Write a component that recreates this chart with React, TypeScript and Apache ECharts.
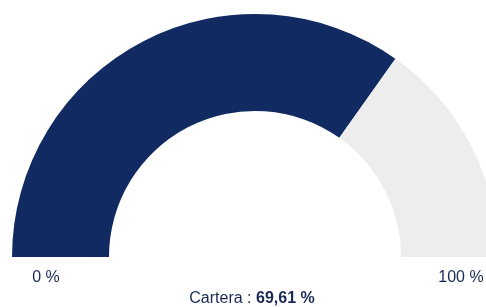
import React, { useEffect, useRef } from "react";
import * as echarts from "echarts";

const categories = ["Cartera", "Resto"];
const values = [69.61, 30.39];
const tickLabels = ["0 %", "100 %"];
const titleLabel = "Cartera";
const titleValue = "69,61 %";

const NAVY = "#112B62";
const GREY = "#EDEDED";
const TEXT = "#1B2A55";

export default function App() {
  const ref = useRef<HTMLDivElement>(null);
  useEffect(() => {
    if (!ref.current) return;
    const chart = echarts.init(ref.current, undefined, { renderer: "svg" });
    const total = values.reduce((a, b) => a + b, 0);
    chart.setOption({
      animation: false,
      series: [
        {
          type: "pie",
          center: [255, 257],
          radius: [146, 243],
          startAngle: 180,
          clockwise: true,
          silent: true,
          label: { show: false },
          labelLine: { show: false },
          emphasis: { disabled: true },
          data: [
            { name: categories[0], value: values[0], itemStyle: { color: NAVY } },
            { name: categories[1], value: values[1], itemStyle: { color: GREY } },
            { name: "hidden", value: total, itemStyle: { color: "rgba(0,0,0,0)" } },
          ],
        },
      ],
      graphic: [
        {
          type: "text",
          x: 46,
          y: 276,
          style: {
            text: tickLabels[0],
            fill: TEXT,
            font: "16px 'Liberation Sans', Arial, sans-serif",
            align: "center",
            verticalAlign: "middle",
          },
        },
        {
          type: "text",
          x: 461,
          y: 276,
          style: {
            text: tickLabels[1],
            fill: TEXT,
            font: "16px 'Liberation Sans', Arial, sans-serif",
            align: "center",
            verticalAlign: "middle",
          },
        },
        {
          type: "text",
          x: 252,
          y: 297,
          style: {
            text: `{a|${titleLabel} : }{b|${titleValue}}`,
            align: "center",
            verticalAlign: "middle",
            rich: {
              a: { fill: TEXT, color: TEXT, fontSize: 16, fontFamily: "'Liberation Sans', Arial, sans-serif" },
              b: { fill: TEXT, color: TEXT, fontSize: 16, fontWeight: "bold", fontFamily: "'Liberation Sans', Arial, sans-serif" },
            },
          },
        },
      ],
    });
    return () => chart.dispose();
  }, []);
  return (
    <div
      ref={ref}
      style={{ position: "fixed", left: 0, top: 0, width: 486, height: 307 }}
    />
  );
}
